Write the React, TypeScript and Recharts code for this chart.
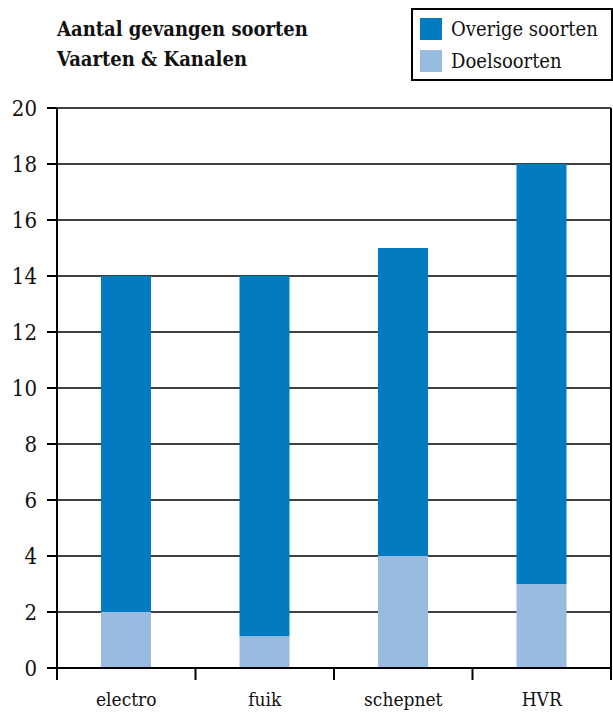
import { BarChart, Bar, XAxis, YAxis, CartesianGrid } from 'recharts';

const categories = ['electro', 'fuik', 'schepnet', 'HVR'];
const doelsoorten = [2, 1.13, 4, 3];
const overigeSoorten = [12, 12.87, 11, 15];
const yTicks = [0, 2, 4, 6, 8, 10, 12, 14, 16, 18, 20];

const data = categories.map((name, i) => ({
  name,
  doel: doelsoorten[i],
  overig: overigeSoorten[i],
}));

const DARK = '#037bc1';
const LIGHT = '#99bbdf';
const FONT = '"DejaVu Serif Condensed", "DejaVu Serif", serif';
const HALF_BAND = (611 - 57) / 8;

function XTick({ x, y, payload, index }: { x: number; y: number; payload: { value: string }; index: number }) {
  return (
    <g>
      <line x1={x - HALF_BAND} y1={y} x2={x - HALF_BAND} y2={y + 12} stroke='#000' strokeWidth={2} />
      {index === categories.length - 1 && (
        <line x1={x + HALF_BAND} y1={y} x2={x + HALF_BAND} y2={y + 12} stroke='#000' strokeWidth={2} />
      )}
      <text x={x} y={y + 38} textAnchor='middle' fill='#111' fontSize={19} fontFamily={FONT} fontStretch='condensed'>
        {payload.value}
      </text>
    </g>
  );
}

export default function App() {
  return (
    <div style={{ position: 'absolute', left: 0, top: 0, width: 613, height: 713, background: '#fff' }}>
      <div
        style={{
          position: 'absolute',
          left: 57,
          top: 14,
          fontFamily: FONT,
          fontStretch: 'condensed',
          fontWeight: 'bold',
          fontSize: 20,
          lineHeight: '30px',
          color: '#111',
          whiteSpace: 'nowrap',
        }}
      >
        <div>Aantal gevangen soorten</div>
        <div>Vaarten &amp; Kanalen</div>
      </div>
      <div
        style={{
          position: 'absolute',
          left: 411,
          top: 8,
          width: 198,
          height: 69,
          border: '2px solid #000',
          fontFamily: FONT,
          fontStretch: 'condensed',
          fontSize: 20,
          color: '#111',
          whiteSpace: 'nowrap',
        }}
      >
        {[
          { label: 'Overige soorten', color: DARK },
          { label: 'Doelsoorten', color: LIGHT },
        ].map((item, i) => (
          <div key={i} style={{ position: 'absolute', left: 7, top: 7 + i * 32, display: 'flex', alignItems: 'center' }}>
            <div style={{ width: 22, height: 22, background: item.color, marginRight: 9 }} />
            <span>{item.label}</span>
          </div>
        ))}
      </div>
      <BarChart width={613} height={713} data={data} margin={{ top: 108, right: 1, left: 0, bottom: 0 }}>
        <CartesianGrid vertical={false} stroke='#000' strokeWidth={1.5} />
        <XAxis
          dataKey='name'
          height={45}
          tickLine={false}
          tickSize={0}
          tickMargin={0}
          axisLine={{ stroke: '#000', strokeWidth: 2 }}
          tick={XTick as any}
          interval={0}
        />
        <YAxis
          domain={[0, 20]}
          ticks={yTicks}
          width={57}
          tickSize={10}
          tickMargin={10}
          axisLine={{ stroke: '#000', strokeWidth: 2 }}
          tickLine={{ stroke: '#000', strokeWidth: 2 }}
          tick={{ fill: '#111', fontSize: 22, fontFamily: FONT, fontStretch: 'condensed' } as any}
        />
        <YAxis
          yAxisId='right'
          orientation='right'
          width={1}
          tick={false}
          tickLine={false}
          axisLine={{ stroke: '#000', strokeWidth: 2 }}
        />
        <Bar dataKey='doel' stackId='a' fill={LIGHT} barSize={50} isAnimationActive={false} />
        <Bar dataKey='overig' stackId='a' fill={DARK} barSize={50} isAnimationActive={false} />
      </BarChart>
    </div>
  );
}
